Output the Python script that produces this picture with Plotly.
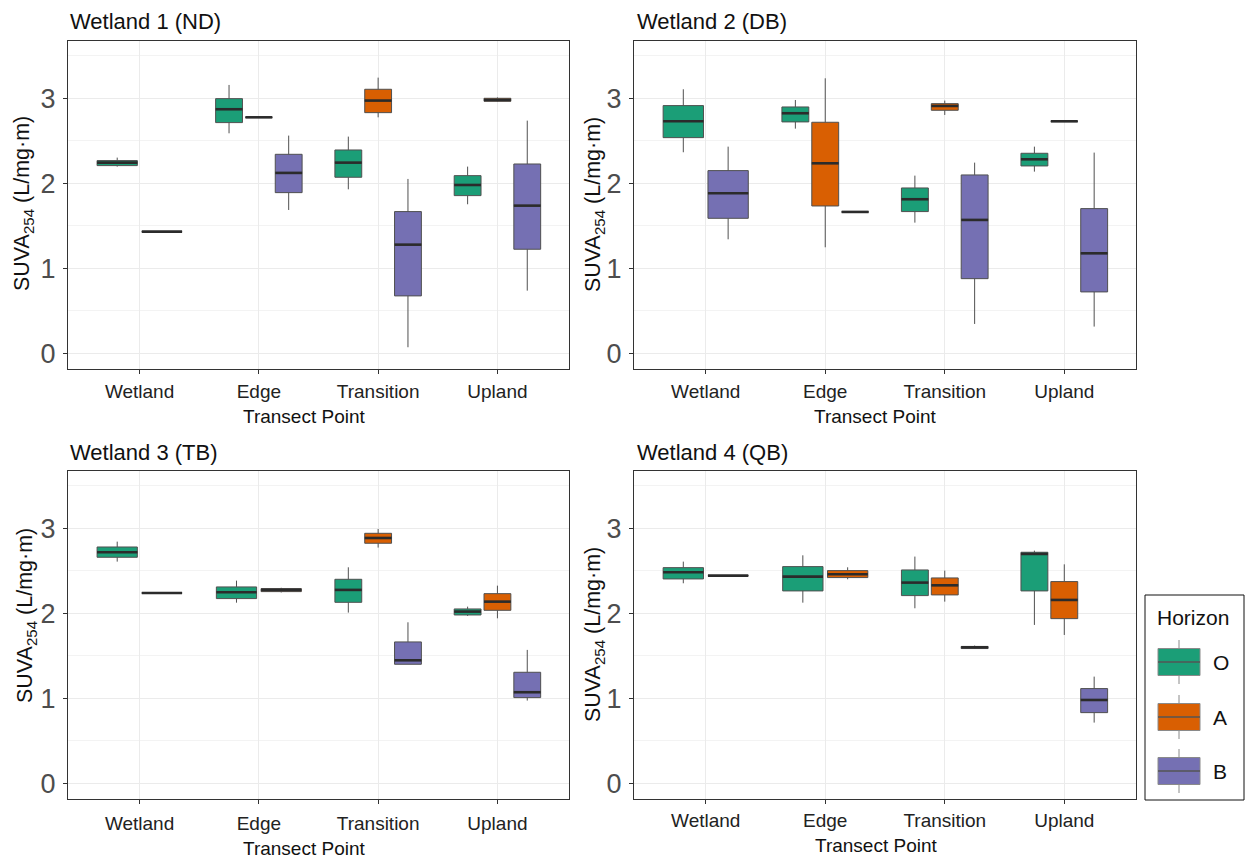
import plotly.graph_objects as go

# ---- data -----------------------------------------------------------------
categories = ["Wetland", "Edge", "Transition", "Upland"]
horizons = ["O", "A", "B"]
horizon_colors = {"O": "#1B9E77", "A": "#D95F02", "B": "#7570B3"}
panel_titles = ["Wetland 1 (ND)", "Wetland 2 (DB)", "Wetland 3 (TB)", "Wetland 4 (QB)"]

# five-number summaries per transect point:
# [lower whisker, q1, median, q3, upper whisker]; None = horizon not sampled
w1_O = [[2.196, 2.208, 2.243, 2.267, 2.302], [2.588, 2.714, 2.871, 2.996, 3.157],
        [1.929, 2.071, 2.243, 2.392, 2.549], [1.753, 1.855, 1.980, 2.090, 2.196]]
w1_A = [None, [2.776, 2.776, 2.776, 2.776, 2.776],
        [2.776, 2.831, 2.973, 3.106, 3.243], [2.960, 2.965, 2.980, 3.000, 3.010]]
w1_B = [[1.431, 1.431, 1.431, 1.431, 1.431], [1.686, 1.890, 2.122, 2.341, 2.561],
        [0.071, 0.675, 1.278, 1.667, 2.051], [0.737, 1.224, 1.737, 2.227, 2.737]]

w2_O = [[2.365, 2.537, 2.729, 2.914, 3.106], [2.643, 2.722, 2.824, 2.898, 2.980],
        [1.537, 1.667, 1.812, 1.945, 2.090], [2.137, 2.204, 2.282, 2.353, 2.431]]
w2_A = [None, [1.247, 1.733, 2.235, 2.718, 3.235],
        [2.804, 2.859, 2.910, 2.937, 2.973], [2.729, 2.729, 2.729, 2.729, 2.729]]
w2_B = [[1.341, 1.588, 1.882, 2.149, 2.431], [1.663, 1.663, 1.663, 1.663, 1.663],
        [0.345, 0.878, 1.569, 2.098, 2.243], [0.314, 0.722, 1.176, 1.702, 2.361]]

w3_O = [[2.608, 2.659, 2.718, 2.780, 2.843], [2.125, 2.173, 2.247, 2.310, 2.384],
        [2.008, 2.129, 2.275, 2.400, 2.541], [1.969, 1.980, 2.020, 2.051, 2.078]]
w3_A = [None, [2.245, 2.255, 2.275, 2.290, 2.300],
        [2.773, 2.824, 2.886, 2.941, 2.992], [1.941, 2.035, 2.137, 2.231, 2.325]]
w3_B = [[2.239, 2.239, 2.239, 2.239, 2.239], None,
        [1.400, 1.400, 1.447, 1.663, 1.894], [0.973, 1.008, 1.071, 1.306, 1.569]]

w4_O = [[2.353, 2.404, 2.482, 2.537, 2.608], [2.125, 2.263, 2.431, 2.549, 2.682],
        [2.059, 2.208, 2.361, 2.510, 2.667], [1.863, 2.263, 2.698, 2.718, 2.737]]
w4_A = [[2.443, 2.443, 2.443, 2.443, 2.443], [2.400, 2.420, 2.459, 2.502, 2.541],
        [2.137, 2.216, 2.329, 2.416, 2.502], [1.745, 1.937, 2.157, 2.373, 2.576]]
w4_B = [None, None,
        [1.580, 1.585, 1.600, 1.610, 1.620], [0.714, 0.831, 0.980, 1.114, 1.255]]

panels = [
    {"O": w1_O, "A": w1_A, "B": w1_B},
    {"O": w2_O, "A": w2_A, "B": w2_B},
    {"O": w3_O, "A": w3_A, "B": w3_B},
    {"O": w4_O, "A": w4_A, "B": w4_B},
]

# ---- layout geometry (pixels of a 1245 x 861 canvas) -----------------------
W, H = 1245, 861
FONT = "Liberation Sans, Arial, Helvetica, sans-serif"


def fx(p):
    return p / W


def fy(p):
    return 1 - p / H


panel_px = [  # (left, right, top, bottom)
    (68, 569, 41, 369),
    (634, 1136, 41, 369),
    (68, 569, 471, 799),
    (634, 1136, 471, 799),
]
title_px = [(68, 21), (635, 21), (68, 452), (635, 452)]
xtitle_px = [(304, 416), (875, 416), (304, 848), (876, 845)]
ytitle_px = [(23, 204), (594, 205), (26, 616), (594, 635)]
xlabel_standoff = [1, 1, 3, 0]


def dodge(n, total=0.75, padding=0.1):
    """Offsets and box width for n boxes sharing one category slot."""
    slot = total / n
    offsets = [-total / 2 + slot * (i + 0.5) for i in range(n)]
    return offsets, slot * (1 - padding)


fig = go.Figure()
BOX_LINE = "#505050"
MED_LINE = "#2b2b2b"

for p, data in enumerate(panels):
    ax = "" if p == 0 else str(p + 1)
    med_x, med_y = [], []
    for ci, cat in enumerate(categories):
        present = [h for h in horizons if data[h][ci] is not None]
        offsets, bw = dodge(len(present))
        for h, off in zip(present, offsets):
            lo, q1, med, q3, hi = data[h][ci]
            xc = ci + 1 + off
            fig.add_trace(go.Box(
                x=[xc], q1=[q1], median=[med], q3=[q3],
                lowerfence=[lo], upperfence=[hi],
                width=bw, whiskerwidth=0, boxpoints=False,
                fillcolor=horizon_colors[h],
                line=dict(color=BOX_LINE, width=1),
                name=h, showlegend=False, hoverinfo="y",
                xaxis="x" + ax, yaxis="y" + ax,
            ))
            med_x += [xc - bw / 2, xc + bw / 2, None]
            med_y += [med, med, None]
    fig.add_trace(go.Scatter(
        x=med_x, y=med_y, mode="lines",
        line=dict(color=MED_LINE, width=2.6),
        showlegend=False, hoverinfo="skip",
        xaxis="x" + ax, yaxis="y" + ax,
    ))

layout = dict(
    width=W, height=H, autosize=False,
    margin=dict(l=0, r=0, t=0, b=0),
    paper_bgcolor="white", plot_bgcolor="white",
    boxmode="overlay", showlegend=False,
    font=dict(family=FONT, color="#1a1a1a"),
)

annotations = []
shapes = []
for p, (l, r, t, b) in enumerate(panel_px):
    ax = "" if p == 0 else str(p + 1)
    layout["xaxis" + ax] = dict(
        domain=[fx(l), fx(r)], anchor="y" + ax,
        range=[0.4, 4.6], tickvals=[1, 2, 3, 4], ticktext=categories,
        showgrid=True, gridcolor="#ebebeb", gridwidth=1, zeroline=False,
        showline=True, mirror=True, linecolor="#333333", linewidth=1,
        ticks="outside", ticklen=4, tickcolor="#333333", tickwidth=1,
        tickfont=dict(size=19, color="#222222"),
        ticklabelstandoff=xlabel_standoff[p],
        fixedrange=True,
    )
    layout["yaxis" + ax] = dict(
        domain=[fy(b), fy(t)], anchor="x" + ax,
        range=[-0.185, 3.674], tickvals=[0, 1, 2, 3],
        showgrid=True, gridcolor="#ebebeb", gridwidth=1, zeroline=False,
        minor=dict(tickvals=[0.5, 1.5, 2.5, 3.5], showgrid=True,
                   gridcolor="#f3f3f3", gridwidth=1, ticks=""),
        showline=True, mirror=True, linecolor="#333333", linewidth=1,
        ticks="outside", ticklen=4, tickcolor="#333333", tickwidth=1,
        tickfont=dict(size=27, color="#4d4d4d"), ticklabelstandoff=2,
        fixedrange=True,
    )
    tx, ty = title_px[p]
    annotations.append(dict(
        text=panel_titles[p], x=fx(tx), y=fy(ty), xref="paper", yref="paper",
        xanchor="left", yanchor="middle", showarrow=False,
        font=dict(size=22, color="#111111"),
    ))
    xx, xy = xtitle_px[p]
    annotations.append(dict(
        text="Transect Point", x=fx(xx), y=fy(xy), xref="paper", yref="paper",
        xanchor="center", yanchor="middle", showarrow=False,
        font=dict(size=19, color="#111111"),
    ))
    yx, yy = ytitle_px[p]
    annotations.append(dict(
        text="SUVA<sub>254</sub> (L/mg·m)", x=fx(yx), y=fy(yy),
        xref="paper", yref="paper", xanchor="center", yanchor="middle",
        textangle=-90, showarrow=False,
        font=dict(size=21.5, color="#111111"),
    ))

# ---- legend for the horizon fill colours ----------------------------------
shapes.append(dict(type="rect", xref="paper", yref="paper",
                   x0=fx(1145), x1=fx(1244), y0=fy(800), y1=fy(595),
                   line=dict(color="#111111", width=1), fillcolor="white"))
annotations.append(dict(
    text="Horizon", x=fx(1193), y=fy(617), xref="paper", yref="paper",
    xanchor="center", yanchor="middle", showarrow=False,
    font=dict(size=21, color="#111111"),
))
key_centers = {"O": 662, "A": 717, "B": 771}
for h in horizons:
    cy = key_centers[h]
    shapes.append(dict(type="line", xref="paper", yref="paper",
                       x0=fx(1179), x1=fx(1179), y0=fy(cy - 22), y1=fy(cy + 22),
                       line=dict(color="#8a8a8a", width=1)))
    shapes.append(dict(type="rect", xref="paper", yref="paper",
                       x0=fx(1158), x1=fx(1200), y0=fy(cy + 13.5), y1=fy(cy - 13.5),
                       line=dict(color="#8a8a8a", width=1),
                       fillcolor=horizon_colors[h]))
    shapes.append(dict(type="line", xref="paper", yref="paper",
                       x0=fx(1158), x1=fx(1200), y0=fy(cy), y1=fy(cy),
                       line=dict(color="#555555", width=1.5)))
    annotations.append(dict(
        text=h, x=fx(1211), y=fy(cy), xref="paper", yref="paper",
        xanchor="left", yanchor="middle", showarrow=False,
        font=dict(size=21, color="#111111"),
    ))

layout["annotations"] = annotations
layout["shapes"] = shapes
fig.update_layout(**layout)

fig.write_html("out.html", config={"displayModeBar": False})
